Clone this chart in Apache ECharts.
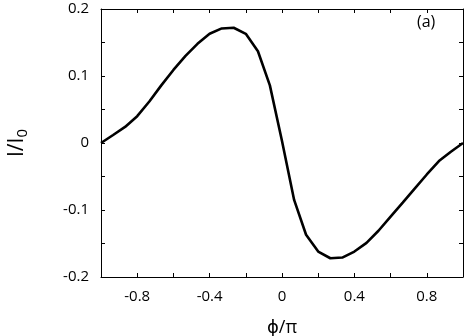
<!DOCTYPE html>
<html>
<head>
<meta charset="UTF-8">
<title>I/I0 vs phi/pi</title>
<script src="https://cdn.jsdelivr.net/npm/echarts@6/dist/echarts.min.js"></script>
</head>
<body style="margin:0">
<div id="main" style="width:474px;height:336px;"></div>
<script type="text/javascript">
// phi/pi sample points (step 1/15)
var phi = [-1, -0.933, -0.867, -0.8, -0.733, -0.667, -0.6, -0.533, -0.467, -0.4, -0.333, -0.267, -0.2, -0.133, -0.067,
           0, 0.067, 0.133, 0.2, 0.267, 0.333, 0.4, 0.467, 0.533, 0.6, 0.667, 0.733, 0.8, 0.867, 0.933, 1];
// I/I0
var current = [0, 0.012, 0.024, 0.040, 0.062, 0.086, 0.109, 0.130, 0.148, 0.163, 0.171, 0.172, 0.163, 0.137, 0.086,
               0.003, -0.085, -0.137, -0.162, -0.172, -0.171, -0.162, -0.149, -0.131, -0.110, -0.089, -0.068, -0.047, -0.027, -0.013, 0];

var pts = [];
for (var i = 0; i < phi.length; i++) pts.push([phi[i], current[i]]);

var txtFont = '"Open Sans", "DejaVu Sans", sans-serif';
var axisLine = {show: true, onZero: false, lineStyle: {color: '#000', width: 1}};
var tick = {show: true, inside: true, length: 4, lineStyle: {color: '#000', width: 1}};

var chart = echarts.init(document.getElementById('main'));
chart.setOption({
    animation: false,
    grid: {left: 101, right: 11, top: 9, bottom: 59, containLabel: false, outerBoundsMode: 'none'},
    xAxis: [{
        type: 'value', min: -1, max: 1, interval: 0.2, position: 'bottom',
        axisLine: axisLine, axisTick: tick, splitLine: {show: false},
        axisLabel: {
            color: '#000', fontSize: 15, fontFamily: txtFont, margin: 12,
            formatter: function (v) {
                var r = Math.round(v * 5);
                if (r % 2 !== 0 || Math.abs(r) === 5) return '';
                return String(Math.round(v * 10) / 10);
            }
        },
        name: 'ϕ/π', nameLocation: 'middle', nameGap: 42,
        nameTextStyle: {color: '#000', fontSize: 18, fontFamily: txtFont}
    }, {
        type: 'value', min: -1, max: 1, interval: 0.2, position: 'top',
        axisLine: axisLine, axisTick: tick, axisLabel: {show: false}, splitLine: {show: false}
    }],
    yAxis: [{
        type: 'value', min: -0.2, max: 0.2, interval: 0.05, position: 'left',
        axisLine: axisLine, axisTick: tick, splitLine: {show: false},
        axisLabel: {
            color: '#000', fontSize: 15, fontFamily: txtFont, margin: 12,
            formatter: function (v) {
                var r = Math.round(v * 20);
                if (r % 2 !== 0) return '';
                return String(Math.round(v * 10) / 10);
            }
        },
        name: 'I/I{s|0}', nameLocation: 'middle', nameGap: 71, nameRotate: 90,
        nameTextStyle: {
            color: '#000', fontSize: 21, fontFamily: txtFont,
            rich: {s: {fontSize: 15, fontFamily: txtFont, color: '#000', padding: [11, 0, 0, 0]}}
        }
    }, {
        type: 'value', min: -0.2, max: 0.2, interval: 0.05, position: 'right',
        axisLine: axisLine, axisTick: tick, axisLabel: {show: false}, splitLine: {show: false}
    }],
    graphic: [{
        type: 'text', left: 417, top: 14,
        style: {text: '(a)', fill: '#000', fontSize: 16, fontFamily: txtFont}
    }],
    series: [{
        type: 'line', xAxisIndex: 0, yAxisIndex: 0,
        data: pts, showSymbol: false, smooth: false,
        lineStyle: {color: '#000', width: 2.6}
    }]
});
</script>
</body>
</html>
